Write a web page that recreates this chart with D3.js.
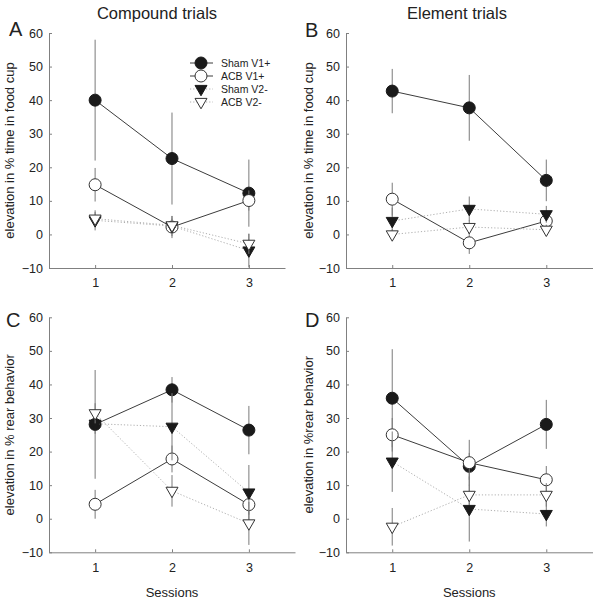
<!DOCTYPE html>
<html>
<head>
<meta charset="utf-8">
<script src="https://cdn.jsdelivr.net/npm/d3@7"></script>
<style>
  html, body { margin: 0; padding: 0; background: #fff; }
  svg { display: block; }
  text { font-family: "Liberation Sans", Arial, sans-serif; fill: #222; }
</style>
</head>
<body>
<svg id="chart" width="600" height="600"></svg>
<script>
// ---------- data ----------
const sessions = [1, 2, 3];
const seriesNames = ["Sham V1+", "ACB V1+", "Sham V2-", "ACB V2-"];
const yTicks = [-10, 0, 10, 20, 30, 40, 50, 60];
const columnTitles = ["Compound trials", "Element trials"];
const panelLetters = ["A", "B", "C", "D"];
const yLabels = [
  "elevation in % time in food cup",
  "elevation in % time in food cup",
  "elevation in % rear behavior",
  "elevation in %rear behavior"
];
const xLabel = "Sessions";

// means per series (order: Sham V1+, ACB V1+, Sham V2-, ACB V2-)
const meansA = [[40.0, 22.6, 12.3], [14.8, 2.2, 10.1], [4.2, 2.5, -4.8], [4.7, 2.7, -2.8]];
const errsA  = [[18.0, 13.7, 10.0], [5.0, 3.3, 3.0], [3.0, 3.0, 5.0], [2.0, 2.0, 3.0]];
const meansB = [[42.7, 37.7, 16.1], [10.5, -2.5, 4.0], [4.0, 7.6, 6.0], [0.0, 2.2, 1.4]];
const errsB  = [[6.6, 9.8, 6.2], [4.9, 3.3, 2.0], [4.0, 3.7, 2.5], [1.5, 2.0, 1.5]];
const meansC = [[28.1, 38.4, 26.4], [4.3, 17.8, 4.2], [28.3, 27.4, 7.8], [31.4, 8.3, -1.4]];
const errsC  = [[16.2, 3.8, 7.2], [4.3, 4.0, 3.0], [3.0, 10.0, 8.2], [3.0, 4.7, 6.4]];
const meansD = [[35.9, 15.6, 28.1], [25.0, 16.7, 11.6], [17.0, 2.9, 1.4], [-2.4, 7.1, 7.1]];
const errsD  = [[14.6, 4.0, 7.3], [5.0, 6.8, 4.1], [9.0, 9.7, 3.7], [5.6, 3.0, 3.5]];

// ---------- layout ----------
const panels = [
  { means: meansA, errs: errsA, xr: [49, 285], xd: [0.4, 3.47], yr: [268, 33], legend: true },
  { means: meansB, errs: errsB, xr: [346, 592.5], xd: [0.4, 3.6], yr: [268, 33] },
  { means: meansC, errs: errsC, xr: [49, 295], xd: [0.4, 3.6], yr: [552.3, 317.3], sessions: true },
  { means: meansD, errs: errsD, xr: [346, 592.5], xd: [0.4, 3.6], yr: [552.3, 317.3], sessions: true }
];
const letterPos = [[9, 36], [305, 36.5], [6, 327], [305, 327]];
const yLabelX = [14, 313, 14, 313];
const titlePos = [[157, 19], [457, 19]];

const styles = [
  { shape: "circle", fill: "#1a1a1a", stroke: "#1a1a1a", line: "#3c3c3c", dash: null },
  { shape: "circle", fill: "#ffffff", stroke: "#333333", line: "#3c3c3c", dash: null },
  { shape: "tri", fill: "#1a1a1a", stroke: "#1a1a1a", line: "#b0b0b0", dash: "1.2,2" },
  { shape: "tri", fill: "#ffffff", stroke: "#333333", line: "#b0b0b0", dash: "1.2,2" }
];
const triPath = "M-6,-3.6L6,-3.6L0,6.8Z";

const svg = d3.select("#chart");

function drawMarker(g, st, x, y) {
  if (st.shape === "circle") {
    g.append("circle").attr("cx", x).attr("cy", y).attr("r", 6)
      .attr("fill", st.fill).attr("stroke", st.stroke).attr("stroke-width", 1);
  } else {
    g.append("path").attr("d", triPath).attr("transform", `translate(${x},${y})`)
      .attr("fill", st.fill).attr("stroke", st.stroke).attr("stroke-width", 1);
  }
}

panels.forEach((p, pi) => {
  const x = d3.scaleLinear().domain(p.xd).range(p.xr);
  const y = d3.scaleLinear().domain([-10, 60]).range(p.yr);
  const g = svg.append("g");

  // axes
  const ya = g.append("g").attr("transform", `translate(${p.xr[0]},0)`)
    .call(d3.axisLeft(y).tickValues(yTicks).tickFormat(d3.format("d"))
      .tickSizeInner(-3).tickSizeOuter(0).tickPadding(6));
  const xa = g.append("g").attr("transform", `translate(0,${p.yr[0]})`)
    .call(d3.axisBottom(x).tickValues(sessions).tickFormat(d3.format("d"))
      .tickSizeInner(-3).tickSizeOuter(0).tickPadding(10.5));
  [ya, xa].forEach(a => {
    a.select(".domain").attr("stroke", "#808080");
    a.selectAll(".tick line").attr("stroke", "#808080");
    a.selectAll(".tick text").attr("fill", "#222").style("font-size", "12.5px")
      .style("font-family", '"Liberation Sans", Arial, sans-serif');
  });

  // series
  p.means.forEach((m, si) => {
    const st = styles[si];
    const sg = g.append("g");
    // error bars
    sessions.forEach((s, k) => {
      sg.append("line")
        .attr("x1", x(s)).attr("x2", x(s))
        .attr("y1", y(m[k] - p.errs[si][k])).attr("y2", y(m[k] + p.errs[si][k]))
        .attr("stroke", "#7a7a7a").attr("stroke-width", 1);
    });
    // connecting line
    const line = d3.line().x((d, k) => x(sessions[k])).y(d => y(d));
    sg.append("path").attr("d", line(m)).attr("fill", "none")
      .attr("stroke", st.line).attr("stroke-width", 1)
      .attr("stroke-dasharray", st.dash);
    // markers
    sessions.forEach((s, k) => drawMarker(sg, st, x(s), y(m[k])));
  });

  // y label
  const cy = (p.yr[0] + p.yr[1]) / 2;
  g.append("text").attr("transform", `translate(${yLabelX[pi]},${cy}) rotate(-90)`)
    .attr("text-anchor", "middle").style("font-size", "13px").text(yLabels[pi]);

  // panel letter
  g.append("text").attr("x", letterPos[pi][0]).attr("y", letterPos[pi][1])
    .style("font-size", "20px").text(panelLetters[pi]);

  // sessions label
  if (p.sessions) {
    g.append("text").attr("x", x(2)).attr("y", 596.5).attr("text-anchor", "middle")
      .style("font-size", "13px").text(xLabel);
  }

  // legend
  if (p.legend) {
    const lg = g.append("g");
    const rowY = [63, 76, 89, 102];
    seriesNames.forEach((n, si) => {
      const st = styles[si];
      lg.append("line").attr("x1", 190).attr("x2", 213).attr("y1", rowY[si]).attr("y2", rowY[si])
        .attr("stroke", st.line).attr("stroke-width", 1).attr("stroke-dasharray", st.dash);
      drawMarker(lg, st, 201, rowY[si]);
      lg.append("text").attr("x", 221).attr("y", rowY[si]).attr("dy", "0.35em")
        .style("font-size", "10.5px").text(n);
    });
  }
});

// column titles
columnTitles.forEach((t, i) => {
  svg.append("text").attr("x", titlePos[i][0]).attr("y", titlePos[i][1])
    .attr("text-anchor", "middle").style("font-size", "16.5px").text(t);
});
</script>
</body>
</html>
